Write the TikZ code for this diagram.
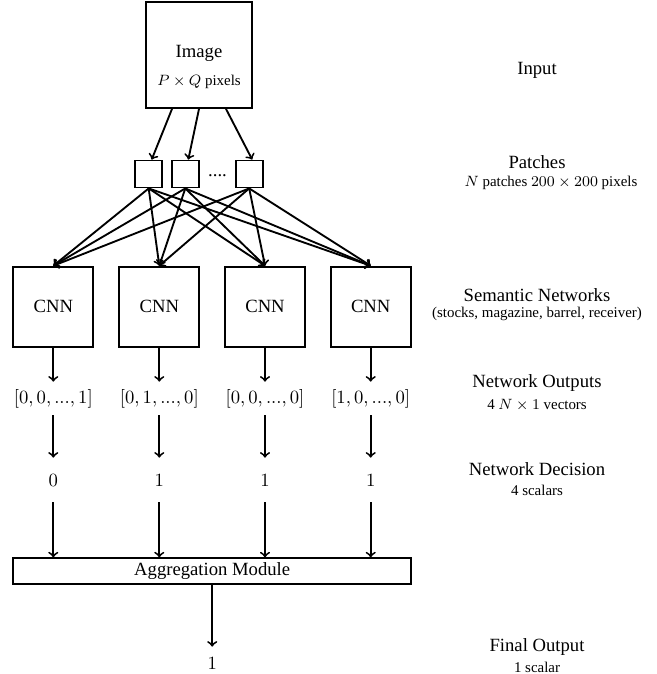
\documentclass[tikz,border=0pt]{standalone}
\usepackage[no-math]{fontspec}
\setmainfont{Liberation Serif}
\usetikzlibrary{calc}
\newcommand{\pu}{0.536pt}
\begin{document}
\begin{tikzpicture}[x=0.536pt,y=-0.536pt,
  boxnode/.style={draw, line width=1pt, inner sep=0pt, minimum width=#1*\pu, minimum height=#1*\pu},
  arr/.style={->, line width=1pt},
  txt/.style={inner sep=0pt, font=\normalsize},
  subtxt/.style={inner sep=0pt, font=\footnotesize},
  valnode/.style={inner sep=0pt, minimum height=#1*\pu}]
\useasboundingbox (0,0) rectangle (656,674);
% input image
\node[boxnode=106] (img) at (199,55) {};
\node[txt] (imgt) at (199,53) {Image};
\node[subtxt] (imgs) at (199,82) {$P\times Q$ pixels};
% patches
\node[boxnode=27] (p1) at (148.7,174) {};
\node[boxnode=27] (p2) at (185.3,174) {};
\node[boxnode=27] (p3) at (249.2,174) {};
\node[txt, anchor=base] (pd) at (217.5,176) {....};
\draw[arr] ($(img.south)+(-27,0)$) -- ($(p1.north)+(3,0)$);
\draw[arr] (img.south) -- ($(p2.north)+(3,0)$);
\draw[arr] ($(img.south)+(27,0)$) -- ($(p3.north)+(3,0)$);
% CNNs
\foreach \i/\x in {1/53.3,2/159.3,3/265,4/370.7}{
  \node[boxnode=80] (c\i) at (\x,306.7) {CNN};
}
\foreach \p in {1,2,3}{
  \foreach \c in {1,2,3,4}{
    \draw[arr] (p\p.south) -- (c\c.north);
  }
}
% outputs
\node[valnode=33] (o1) at (53.3,398.5) {$[0,0,...,1]$};
\node[valnode=33] (o2) at (159.3,398.5) {$[0,1,...,0]$};
\node[valnode=33] (o3) at (265,398.5) {$[0,0,...,0]$};
\node[valnode=33] (o4) at (370.7,398.5) {$[1,0,...,0]$};
% decisions
\node[valnode=44] (d1) at (53.3,480) {$0$};
\node[valnode=44] (d2) at (159.3,480) {$1$};
\node[valnode=44] (d3) at (265,480) {$1$};
\node[valnode=44] (d4) at (370.7,480) {$1$};
% aggregation
\node[draw, line width=1pt, inner sep=0pt, minimum width=398*\pu, minimum height=26*\pu] (agg) at (212.2,571.3) {Aggregation Module};
\node[valnode=32] (fin) at (212.2,663) {$1$};
\foreach \i in {1,2,3,4}{
  \draw[arr] (c\i.south) -- (o\i.north);
  \draw[arr] (o\i.south) -- (d\i.north);
  \draw[arr] (d\i.south) -- (d\i.south |- agg.north);
}
\draw[arr] (agg.south) -- (fin.north);
% right-hand labels
\node[txt] (l1) at (537,70.7) {Input};
\node[txt] (l2) at (537,162.5) {Patches};
\node[subtxt] (l2s) at (551,182.5) {$N$ patches $200\times200$ pixels};
\node[txt] (l3) at (537,295) {Semantic Networks};
\node[subtxt] (l3s) at (537,313.8) {(stocks, magazine, barrel, receiver)};
\node[txt] (l4) at (537,383.3) {Network Outputs};
\node[subtxt] (l4s) at (537,405) {4 $N\times1$ vectors};
\node[txt] (l5) at (537,469.3) {Network Decision};
\node[subtxt] (l5s) at (537,490) {4 scalars};
\node[txt] (l6) at (537,647.3) {Final Output};
\node[subtxt] (l6s) at (537,667.5) {1 scalar};
\end{tikzpicture}
\end{document}
